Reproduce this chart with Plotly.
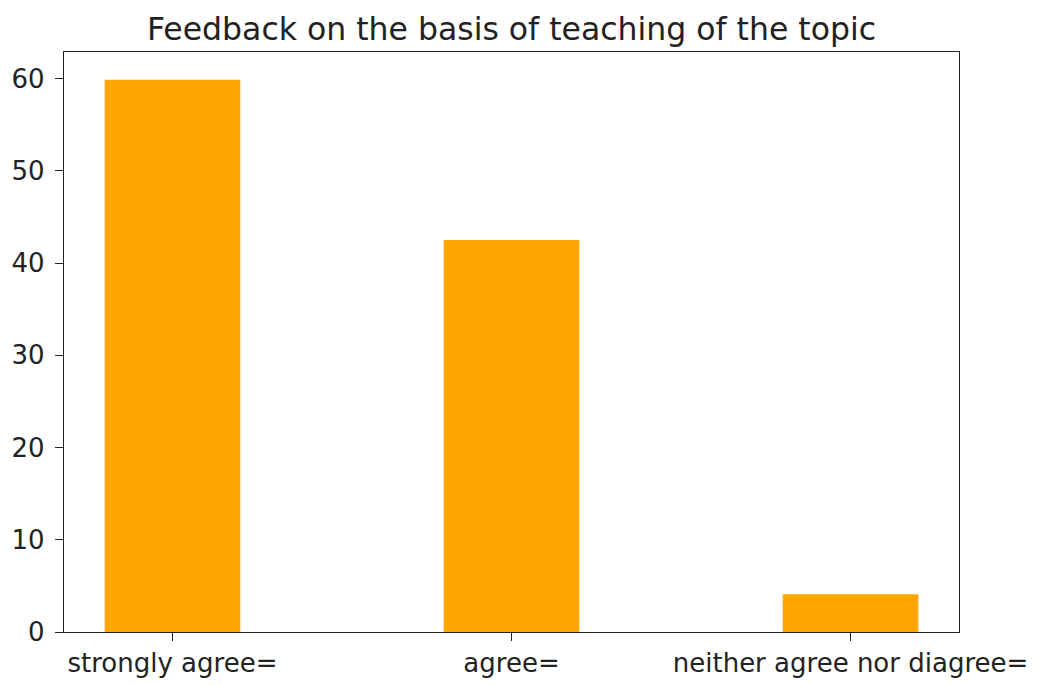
import plotly.graph_objects as go

categories = ["strongly agree=", "agree=", "neither agree nor diagree="]
values = [59.9, 42.5, 4.1]
y_ticks = [0, 10, 20, 30, 40, 50, 60]
title_text = "Feedback on the basis of teaching of the topic"

W, H = 1021, 670  # page body has an 8px margin

fig = go.Figure(go.Bar(
    x=list(range(len(categories))), y=values, width=0.4,
    marker=dict(color="#FFA500", line=dict(width=0)),
))

axis_common = dict(showline=True, linecolor="#222222", linewidth=1.3, mirror=True,
                   ticks="outside", ticklen=8, tickwidth=1.3, tickcolor="#222222",
                   showgrid=False, zeroline=False, automargin=False,
                   tickfont=dict(family="DejaVu Sans", size=26, color="#222222"))

fig.update_layout(
    width=W, height=H,
    margin=dict(l=56, r=70, t=44, b=46),
    paper_bgcolor="white", plot_bgcolor="white",
    title=dict(text=title_text, x=503.5 / W, xanchor="center",
               y=1 - 21 / H, yanchor="middle",
               font=dict(family="DejaVu Sans", size=31.5, color="#222222")),
    xaxis=dict(range=[-0.32, 2.32], tickmode="array",
               tickvals=list(range(len(categories))), ticktext=categories, **axis_common),
    yaxis=dict(range=[0, 62.9], tickmode="array", tickvals=y_ticks,
               ticktext=[str(t) for t in y_ticks], ticklabelstandoff=5, **axis_common),
    showlegend=False,
)

fig.write_html("out.html")
